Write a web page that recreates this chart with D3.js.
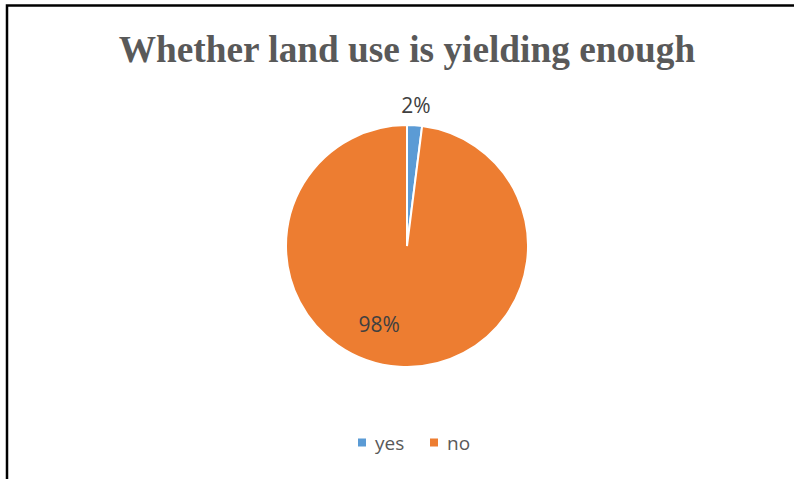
<!DOCTYPE html>
<html>
<head>
<meta charset="utf-8">
<script src="https://cdn.jsdelivr.net/npm/d3@7"></script>
<style>
  html, body { margin: 0; padding: 0; background: #fff; }
  svg { display: block; }
</style>
</head>
<body>
<svg id="chart" width="794" height="479"></svg>
<script>
// Survey answers and their shares (percent)
const categories = ["yes", "no"];
const shares = [2, 98];
const colors = ["#5B9BD5", "#ED7D31"];
const titleText = "Whether land use is yielding enough";

const svg = d3.select("#chart");

// Chart frame (only left and top edges fall inside the view)
svg.append("rect")
  .attr("x", 7).attr("y", 5.5)
  .attr("width", 800).attr("height", 500)
  .attr("fill", "#fff")
  .attr("stroke", "#000")
  .attr("stroke-width", 2.5);

// Title
svg.append("text")
  .attr("x", 407).attr("y", 62)
  .attr("text-anchor", "middle")
  .attr("font-family", "'Liberation Serif', 'Times New Roman', serif")
  .attr("font-weight", "bold")
  .attr("font-size", 37.3)
  .attr("fill", "#595959")
  .text(titleText);

const cx = 407, cy = 246, r = 121;
const data = categories.map((c, i) => ({ cat: c, value: shares[i], color: colors[i] }));

const pie = d3.pie().sort(null).value(d => d.value);
const arc = d3.arc().innerRadius(0).outerRadius(r);
const arcs = pie(data);

const g = svg.append("g").attr("transform", `translate(${cx},${cy})`);

g.selectAll("path.slice")
  .data(arcs)
  .join("path")
  .attr("class", "slice")
  .attr("d", arc)
  .attr("fill", d => d.data.color)
  .attr("stroke", "#fff")
  .attr("stroke-width", 2);

// Data labels: small slice label sits outside above its slice,
// large slice label sits inside, nudged toward the lower left
const labelFont = "'Open Sans', 'Noto Sans', sans-serif";
function labelPos(d) {
  if (d.data.value < 10) {
    const a = (d.startAngle + d.endAngle) / 2;
    return [Math.sin(a) * (r + 20), -Math.cos(a) * (r + 20)];
  }
  const a = (d.startAngle + d.endAngle) / 2 + 0.28;
  return [Math.sin(a) * 83, -Math.cos(a) * 83];
}

g.selectAll("text.lbl")
  .data(arcs)
  .join("text")
  .attr("class", "lbl")
  .attr("transform", d => {
    const p = labelPos(d);
    return `translate(${p[0]},${p[1]})`;
  })
  .attr("text-anchor", "middle")
  .attr("dy", "0.36em")
  .attr("font-family", labelFont)
  .attr("font-size", 21)
  .attr("fill", "#404040")
  .text(d => d.data.value + "%");

// Legend
const legendItems = [
  { x: 358, text: categories[0], color: colors[0] },
  { x: 430, text: categories[1], color: colors[1] }
];
const lg = svg.append("g");
legendItems.forEach(it => {
  lg.append("rect")
    .attr("x", it.x).attr("y", 438.5)
    .attr("width", 8).attr("height", 8)
    .attr("fill", it.color);
  lg.append("text")
    .attr("x", it.x + 17).attr("y", 450)
    .attr("font-family", labelFont)
    .attr("font-size", 19)
    .attr("fill", "#595959")
    .text(it.text);
});
</script>
</body>
</html>
